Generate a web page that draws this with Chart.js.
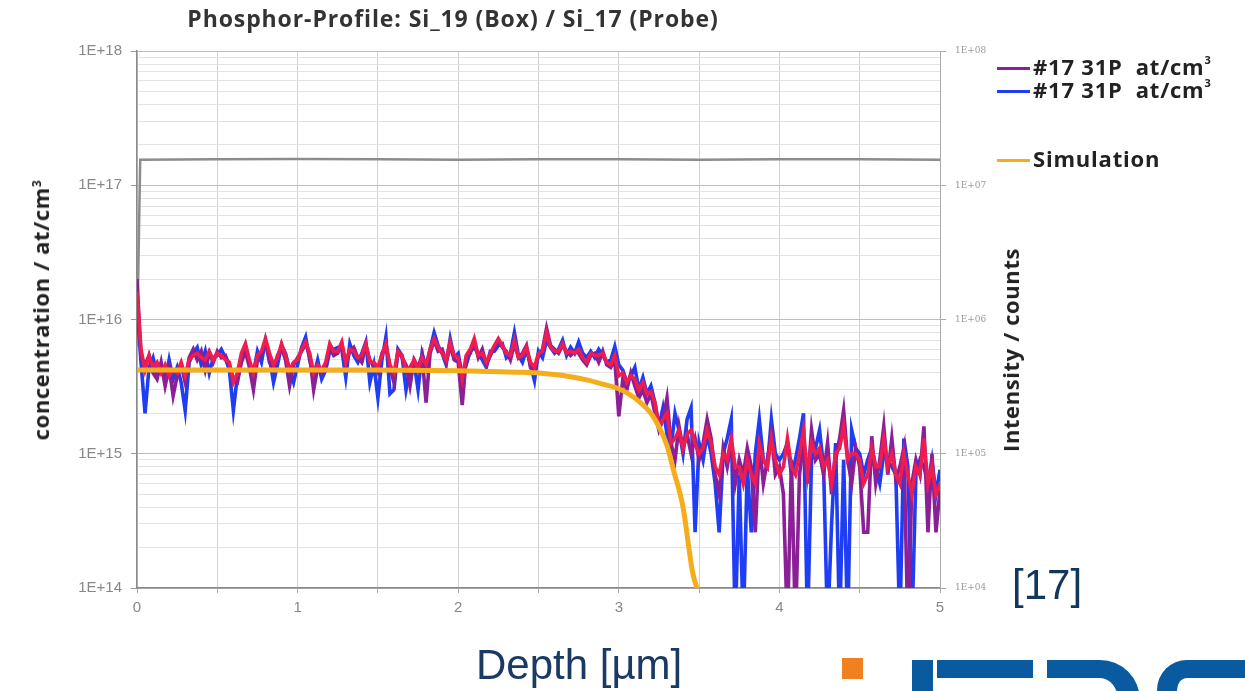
<!DOCTYPE html>
<html>
<head>
<meta charset="utf-8">
<title>Phosphor-Profile</title>
<script src="https://cdn.jsdelivr.net/npm/chart.js@4.4.1/dist/chart.umd.min.js"></script>
<style>
  html, body { margin: 0; padding: 0; background: #fff; }
  body { width: 1245px; height: 691px; position: relative; overflow: hidden; font-family: "Open Sans", Arial, sans-serif; }
  #chart { position: absolute; left: 0; top: 0; }
  .txt { position: absolute; white-space: nowrap; line-height: 1; }
  .title { left: 0; width: 906px; top: 7px; text-align: center; font-weight: 700; font-size: 23px; letter-spacing: 0.9px; color: #333; }
  .ytitle { font-weight: 700; font-size: 22px; letter-spacing: 0.6px; color: #222; transform: translate(-50%, -50%) rotate(-90deg); }
  .legend-row { position: absolute; left: 997px; height: 24px; line-height: 24px; font-weight: 700; font-size: 22px; letter-spacing: 0.8px; color: #222; white-space: nowrap; }
  .legend-row i { display: inline-block; width: 33px; height: 3px; margin-right: 3px; vertical-align: middle; position: relative; top: -1px; }
  .legend-row sup { font-size: 11px; vertical-align: 0; position: relative; top: -11px; }
  .xtitle { left: 476px; top: 644px; font-family: "Liberation Sans", Arial, sans-serif; font-size: 42px; color: #1b3a63; }
  .ref { left: 1012px; top: 564px; font-family: "Liberation Sans", Arial, sans-serif; font-size: 42px; color: #12365c; }
  .logo { position: absolute; background: #0a5aa0; }
</style>
</head>
<body>
<canvas id="chart" width="1245" height="691"></canvas>

<div class="txt title">Phosphor-Profile: Si_19 (Box) / Si_17 (Probe)</div>
<div class="txt ytitle" style="left:40px; top:310px;">concentration / at/cm<sup style="font-size:12px">3</sup></div>
<div class="txt ytitle" style="left:1010px; top:350px;">Intensity / counts</div>

<div class="legend-row" style="top:54px;"><i style="background:#8b1f96"></i>#17 31P&nbsp; at/cm<sup>3</sup></div>
<div class="legend-row" style="top:77px;"><i style="background:#1f3df2"></i>#17 31P&nbsp; at/cm<sup>3</sup></div>
<div class="legend-row" style="top:146px;"><i style="background:#f5ad1b"></i>Simulation</div>

<div class="txt xtitle">Depth [µm]</div>
<div class="txt ref">[17]</div>

<div class="logo" style="left:842px; top:658px; width:21px; height:21px; background:#f08020;"></div>
<div class="logo" style="left:912px; top:660px; width:21px; height:31px;"></div>
<div class="logo" style="left:937px; top:660px; width:96px; height:18px;"></div>
<div class="logo" style="left:1047px; top:660px; width:71px; height:40px; background:transparent; border-top:18px solid #0a5aa0; border-right:22px solid #0a5aa0; border-top-right-radius:40px;"></div>
<div class="logo" style="left:1157px; top:660px; width:90px; height:40px; background:transparent; border-top:18px solid #0a5aa0; border-left:20px solid #0a5aa0; border-top-left-radius:30px;"></div>

<script>
// depth grid of the SIMS profiles, µm (0 … 5 in 0.025 steps)
const depth = [];
for (let i = 0; i <= 200; i++) depth.push(+(i * 0.025).toFixed(3));

// P concentration, in units of 1e15 at/cm³ (0.05 = no counts, below axis)
const E15 = 1e15;
const purpleConc = [
  20, 5.2, 4.6, 5.4, 4.0, 3.6, 4.8, 3.2, 4.4, 2.7,
  3.8, 4.6, 3.4, 5.2, 6.0, 5.0, 5.8, 4.2, 5.6, 4.8,
  5.8, 5.2, 5.4, 4.6, 3.6, 3.4, 4.8, 5.8, 4.4, 3.0,
  5.0, 5.6, 6.8, 4.8, 4.2, 5.4, 6.2, 5.0, 3.2, 4.6,
  5.2, 5.8, 6.6, 5.4, 3.0, 4.4, 4.0, 4.6, 6.2, 5.4,
  5.6, 6.6, 4.6, 5.8, 6.2, 5.2, 4.8, 6.4, 5.0, 4.4,
  4.0, 5.6, 6.4, 4.4, 3.4, 5.8, 5.2, 4.6, 3.2, 5.0,
  4.4, 5.4, 2.4, 5.6, 7.0, 5.8, 6.0, 4.8, 6.4, 5.0,
  4.8, 2.3, 5.2, 5.6, 6.8, 5.2, 6.0, 4.6, 5.4, 6.2,
  7.0, 6.2, 5.8, 5.0, 6.6, 5.2, 5.6, 6.4, 4.4, 4.2,
  5.4, 6.0, 8.6, 6.4, 6.0, 5.6, 6.4, 5.8, 5.4, 5.8,
  5.6, 5.0, 4.6, 5.4, 5.6, 4.8, 5.8, 4.6, 4.4, 5.0,
  1.9, 3.6, 3.0, 4.0, 3.2, 2.6, 3.0, 2.4, 2.8, 2.0,
  1.5, 1.8, 2.6, 1.2, 0.9, 1.6, 1.1, 1.4, 1.0, 1.3,
  0.9, 1.2, 1.8, 1.3, 0.7, 0.5, 1.1, 0.8, 1.2, 0.6,
  0.9, 0.7, 1.1, 0.8, 0.26, 1.2, 0.6, 0.9, 1.4, 0.7,
  0.8, 0.5, 0.05, 0.9, 0.05, 0.7, 1.2, 0.6, 1.5, 0.9,
  1.0, 0.7, 1.2, 0.5, 0.9, 1.3, 2.1, 0.9, 0.6, 1.1,
  0.8, 0.26, 0.26, 1.35, 0.6, 0.9, 1.6, 0.7, 1.3, 0.65,
  0.8, 1.1, 0.05, 0.6, 0.9, 0.7, 1.6, 0.26, 1.0, 0.26, 0.54
];
const blueConc = [
  13, 4.8, 2.0, 4.4, 5.2, 3.8, 4.6, 3.4, 5.0, 3.6,
  4.4, 3.4, 2.1, 4.8, 5.6, 6.2, 4.6, 5.8, 4.0, 5.2,
  5.4, 6.0, 5.2, 4.2, 2.1, 3.8, 5.2, 6.4, 4.6, 4.0,
  5.8, 4.8, 7.0, 5.2, 3.4, 4.6, 6.4, 5.6, 4.2, 3.4,
  4.6, 6.2, 7.4, 5.0, 3.8, 5.0, 3.6, 4.2, 5.8, 6.0,
  6.2, 6.0, 3.7, 6.6, 5.4, 4.8, 5.6, 6.8, 3.4, 4.6,
  2.6, 5.0, 7.4, 2.8, 3.0, 6.0, 5.4, 3.0, 4.4, 4.8,
  3.0, 5.6, 4.4, 6.0, 8.0, 6.4, 5.6, 4.6, 7.2, 5.2,
  5.6, 3.8, 4.6, 5.8, 6.2, 5.6, 5.0, 4.4, 5.8, 5.8,
  6.4, 6.6, 5.2, 5.6, 8.0, 5.4, 4.8, 6.0, 4.6, 3.5,
  5.8, 5.2, 7.0, 6.2, 5.6, 6.0, 7.0, 5.4, 6.2, 5.6,
  6.8, 5.6, 5.2, 5.8, 5.2, 6.0, 5.4, 4.8, 5.0, 6.3,
  4.6, 4.2, 3.4, 3.8, 4.4, 3.0, 3.7, 2.8, 3.2, 2.4,
  1.6, 2.2, 1.4, 1.1, 2.0, 1.5, 1.0, 1.8, 2.2, 0.26,
  1.2, 0.9, 1.4, 1.0, 0.6, 0.26, 1.0, 1.3, 1.8, 0.05,
  0.7, 0.05, 0.8, 0.26, 1.0, 1.8, 0.9, 0.8, 1.8, 1.0,
  0.9, 1.0, 1.2, 0.7, 0.9, 1.3, 2.0, 0.05, 0.9, 1.1,
  1.5, 0.8, 0.05, 0.3, 1.2, 0.05, 0.9, 0.05, 1.5, 1.1,
  1.0, 0.7, 0.9, 1.1, 0.8, 0.6, 1.0, 0.9, 0.8, 0.7,
  0.05, 1.3, 0.8, 0.05, 0.7, 0.9, 0.8, 0.6, 0.9, 0.5, 0.76
];
const redConc = [
  16, 6.0, 4.2, 5.4, 4.4, 4.8, 4.0, 4.6, 3.8, 4.2,
  4.0, 4.8, 3.8, 5.0, 5.4, 5.6, 5.2, 5.0, 5.8, 5.0,
  5.6, 5.4, 5.0, 4.8, 3.4, 4.0, 5.6, 6.6, 5.0, 4.0,
  5.4, 5.8, 7.2, 5.6, 4.6, 5.2, 6.6, 5.4, 4.2, 4.8,
  5.0, 6.0, 6.8, 5.6, 4.0, 4.6, 4.2, 4.8, 6.6, 5.8,
  5.8, 6.8, 4.8, 6.0, 5.8, 5.2, 5.4, 6.6, 4.8, 4.8,
  4.4, 5.4, 6.6, 4.6, 4.0, 5.8, 5.4, 4.2, 4.4, 5.0,
  4.2, 5.2, 4.6, 6.0, 7.2, 6.2, 5.6, 5.0, 6.8, 5.4,
  5.2, 3.6, 5.4, 6.0, 7.2, 5.4, 5.6, 4.8, 5.6, 6.4,
  7.2, 6.4, 5.6, 5.4, 7.0, 5.2, 5.4, 6.2, 4.8, 4.4,
  5.6, 5.8, 8.0, 6.2, 5.8, 5.8, 6.6, 5.6, 5.8, 5.6,
  6.0, 5.2, 4.8, 5.6, 5.4, 5.4, 5.6, 4.8, 4.6, 5.4,
  3.8, 4.0, 3.4, 3.8, 3.6, 3.0, 3.4, 2.8, 2.9, 2.4,
  1.6, 1.8, 2.0, 1.2, 1.3, 1.5, 1.1, 1.4, 1.5, 1.2,
  1.0, 1.1, 1.5, 1.2, 0.8, 0.7, 1.0, 0.9, 1.3, 0.8,
  0.8, 0.6, 0.9, 0.7, 0.6, 1.2, 0.9, 0.8, 1.3, 0.9,
  0.7, 0.8, 1.3, 0.8, 0.7, 1.0, 1.5, 0.7, 1.2, 1.0,
  1.1, 0.8, 0.9, 0.6, 1.0, 1.1, 1.6, 0.9, 1.0, 1.0,
  0.9, 0.6, 0.7, 1.1, 0.8, 0.8, 1.3, 0.8, 1.0, 0.7,
  0.6, 1.0, 0.7, 0.5, 0.8, 0.7, 1.3, 0.6, 0.8, 0.5, 0.6
];

// simulated box profile, 1e15 at/cm³
const simDepth = [0, 0.5, 1, 1.5, 2, 2.2, 2.4, 2.5, 2.6, 2.7, 2.8, 2.9, 3.0, 3.1, 3.2, 3.26, 3.3, 3.34, 3.4, 3.46, 3.5];
const simConc  = [4.2, 4.2, 4.2, 4.2, 4.15, 4.1, 4.05, 4.0, 3.9, 3.75, 3.55, 3.3, 3.05, 2.6, 2.0, 1.5, 1.15, 0.76, 0.40, 0.13, 0.09];

// Si matrix signal, counts (right axis), in units of 1e7
const E7 = 1e7;
const siDepth = [0, 0.02, 0.5, 1, 1.5, 2, 2.5, 3, 3.5, 4, 4.5, 5];
const siCounts = [0.063, 1.55, 1.56, 1.57, 1.56, 1.55, 1.56, 1.56, 1.55, 1.56, 1.56, 1.55];

const leftTicks = [1e14, 1e15, 1e16, 1e17, 1e18];
const rightTicks = [1e4, 1e5, 1e6, 1e7, 1e8];

const pts = (xs, ys, k) => xs.map((x, i) => ({ x, y: ys[i] * k }));
const isDecade = v => Math.abs(Math.log10(v) - Math.round(Math.log10(v))) < 1e-9;
const expLabel = (v, pad) => {
  const e = Math.round(Math.log10(v));
  return "1E+" + (pad ? String(e).padStart(2, "0") : e);
};

const line = (data, color, width, extra = {}) => Object.assign({
  data, borderColor: color, backgroundColor: color, borderWidth: width,
  pointRadius: 0, tension: 0, fill: false, yAxisID: "y",
}, extra);

new Chart(document.getElementById("chart"), {
  type: "line",
  data: {
    // first dataset is drawn on top
    datasets: [
      line(pts(simDepth, simConc, E15), "#f5ad1b", 5, { cubicInterpolationMode: "monotone" }),
      line(pts(depth, redConc, E15), "#ee1c4f", 3.6),
      line(pts(depth, purpleConc, E15), "#8b1f96", 3.6),
      line(pts(depth, blueConc, E15), "#1f3df2", 3.6),
      line(pts(siDepth, siCounts, E7), "#8c8c8c", 2.5, { yAxisID: "y2" }),
    ],
  },
  options: {
    responsive: false,
    animation: false,
    layout: { padding: { top: 51, bottom: 73, left: 0, right: 0 } },
    plugins: { legend: { display: false }, tooltip: { enabled: false } },
    scales: {
      x: {
        type: "linear", min: 0, max: 5,
        afterFit: s => { s.height = 30; },
        ticks: {
          stepSize: 0.5, color: "#888", padding: 6,
          font: { family: "Liberation Sans, Arial", size: 15 },
          callback: v => (Number.isInteger(v) ? String(v) : ""),
        },
        grid: { color: "#d2d2d2", tickLength: 5, tickColor: "#aaa" },
        border: { color: "#8a8a8a", width: 1.5 },
      },
      y: {
        type: "logarithmic", position: "left", min: 1e14, max: 1e18,
        afterFit: s => { s.width = 137; },
        afterBuildTicks: s => {
          // every 1..9 × 10^n gets a grid line, only decades get labels
          const t = [];
          for (let e = 14; e < 18; e++) for (let m = 1; m < 10; m++) t.push({ value: m * Math.pow(10, e) });
          t.push({ value: leftTicks[leftTicks.length - 1] });
          s.ticks = t;
        },
        ticks: {
          autoSkip: false, color: "#888", padding: 9,
          font: { family: "Liberation Sans, Arial", size: 15 },
          callback: v => (isDecade(v) && leftTicks.includes(v) ? expLabel(v, false) : ""),
        },
        grid: {
          tickLength: 6,
          color: c => (isDecade(c.tick.value) ? "#bdbdbd" : "#e3e3e3"),
          tickColor: c => (isDecade(c.tick.value) ? "#999" : "rgba(0,0,0,0)"),
        },
        border: { color: "#8a8a8a", width: 1.5 },
      },
      y2: {
        type: "logarithmic", position: "right", min: 1e4, max: 1e8,
        afterFit: s => { s.width = 305; },
        afterBuildTicks: s => { s.ticks = rightTicks.map(v => ({ value: v })); },
        ticks: {
          autoSkip: false, color: "#999", padding: 9,
          font: { family: "DejaVu Serif", size: 9 },
          callback: v => expLabel(v, true),
        },
        grid: { drawOnChartArea: false, tickLength: 6, tickColor: "#aaa" },
        border: { color: "#aaa", width: 1 },
      },
    },
  },
});
</script>
</body>
</html>
